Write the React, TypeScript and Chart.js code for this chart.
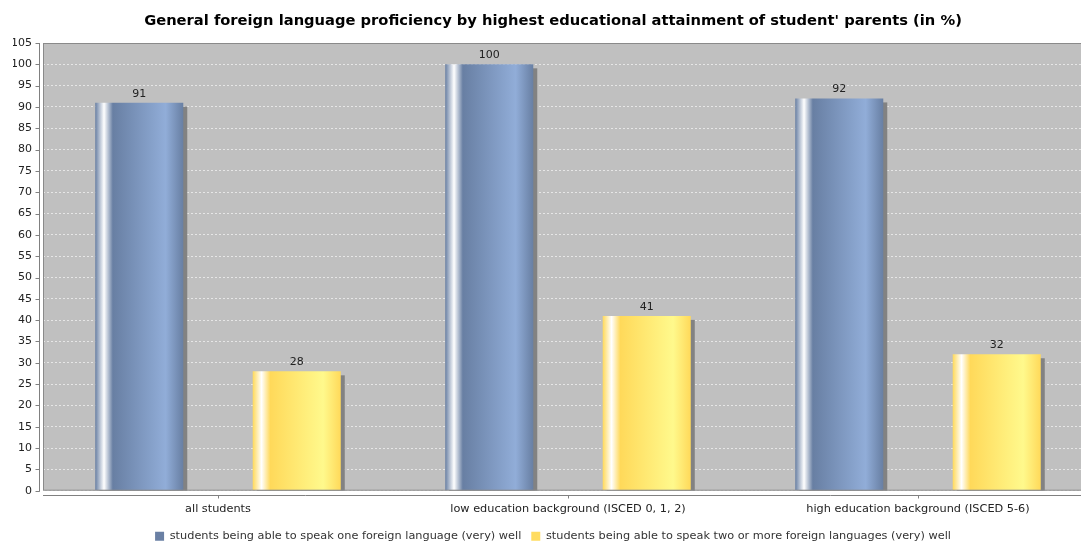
import React, { useEffect, useRef } from 'react';
import { Chart, registerables } from 'chart.js';

Chart.register(...registerables);

// ---- data ----
const TITLE = "General foreign language proficiency by highest educational attainment of student' parents (in %)";
const categories = [
  'all students',
  'low education background (ISCED 0, 1, 2)',
  'high education background (ISCED 5-6)',
];
const seriesNames = [
  'students being able to speak one foreign language (very) well',
  'students being able to speak two or more foreign languages (very) well',
];
const oneLanguage = [91, 100, 92];
const twoOrMoreLanguages = [28, 41, 32];
const yMin = 0;
const yMax = 105;
const yStep = 5;

// ---- styles ----
const FONT = "'DejaVu Sans', 'Liberation Sans', sans-serif";
const BLUE = { c0: '#687fa3', c1: '#91add8', legend: '#6a80a4' };
const YELLOW = { c0: '#ffd95a', c1: '#fff98c', legend: '#ffdc60' };
const CAT_PCT = 0.9;
const BAR_PCT = 0.559;

function barGeometry(chart: any, datasetIndex: number, dataIndex: number) {
  const el: any = chart.getDatasetMeta(datasetIndex).data[dataIndex];
  if (el && typeof el.x === 'number' && isFinite(el.x) && el.width) {
    return { x0: el.x - el.width / 2, x1: el.x + el.width / 2 };
  }
  const ca = chart.chartArea;
  const xs = chart.scales.x;
  const n = chart.data.labels.length;
  const nd = chart.data.datasets.length;
  const catW = ca.width / n;
  const range = catW * CAT_PCT;
  const slot = range / nd;
  const w = slot * BAR_PCT;
  const cx = xs.getPixelForValue(dataIndex) - range / 2 + slot * (datasetIndex + 0.5);
  return { x0: cx - w / 2, x1: cx + w / 2 };
}

const makeBg = (col: { c0: string; c1: string }) => (ctx: any) => {
  if (ctx.type !== 'data' || !ctx.chart.chartArea) return col.c0;
  const { x0, x1 } = barGeometry(ctx.chart, ctx.datasetIndex, ctx.dataIndex);
  if (!isFinite(x0) || !isFinite(x1) || x1 <= x0) return col.c0;
  const g = ctx.chart.ctx.createLinearGradient(x0, 0, x1, 0);
  g.addColorStop(0, col.c0);
  g.addColorStop(0.1, '#ffffff');
  g.addColorStop(0.2, col.c0);
  g.addColorStop(0.8, col.c1);
  g.addColorStop(1, col.c0);
  return g;
};

const decorPlugin = {
  id: 'decor',
  beforeDraw(chart: any) {
    const { ctx, chartArea: ca } = chart;
    ctx.save();
    ctx.fillStyle = '#c0c0c0';
    ctx.fillRect(ca.left, ca.top, ca.right - ca.left, ca.bottom - ca.top);
    ctx.restore();
  },
  beforeDatasetsDraw(chart: any) {
    const { ctx, chartArea: ca } = chart;
    ctx.save();
    ctx.fillStyle = '#828282';
    chart.data.datasets.forEach((_: any, di: number) => {
      chart.getDatasetMeta(di).data.forEach((el: any) => {
        const left = el.x - el.width / 2 + 4;
        const top = el.y + 4;
        ctx.fillRect(left, top, el.width, ca.bottom - top);
      });
    });
    ctx.restore();
  },
  afterDatasetsDraw(chart: any) {
    const { ctx, chartArea: ca } = chart;
    ctx.save();
    // plot outline
    ctx.strokeStyle = '#8a8a8a';
    ctx.lineWidth = 1;
    ctx.strokeRect(ca.left + 0.5, ca.top + 0.5, ca.right - ca.left - 1, ca.bottom - ca.top - 1);
    // y axis line + ticks
    const ys = chart.scales.y;
    const ax = Math.round(ca.left - 4) + 0.5;
    ctx.strokeStyle = '#808080';
    ctx.beginPath();
    ctx.moveTo(ax, ca.top);
    ctx.lineTo(ax, ca.bottom + 1);
    ys.ticks.forEach((t: any) => {
      const y = Math.round(ys.getPixelForValue(t.value)) + 0.5;
      ctx.moveTo(ax - 4, y);
      ctx.lineTo(ax, y);
    });
    ctx.stroke();
    // x axis line + ticks
    const xs = chart.scales.x;
    const ay = Math.round(ca.bottom + 4) + 0.5;
    ctx.beginPath();
    ctx.moveTo(ca.left, ay);
    ctx.lineTo(ca.right, ay);
    xs.ticks.forEach((_: any, i: number) => {
      const x = Math.round(xs.getPixelForValue(i)) + 0.5;
      ctx.moveTo(x, ay);
      ctx.lineTo(x, ay + 3);
    });
    ctx.stroke();
    // value labels
    ctx.fillStyle = '#222';
    ctx.font = `11px ${FONT}`;
    ctx.textAlign = 'center';
    ctx.textBaseline = 'middle';
    chart.data.datasets.forEach((ds: any, di: number) => {
      chart.getDatasetMeta(di).data.forEach((el: any, i: number) => {
        ctx.fillText(String(ds.data[i]), el.x, el.y - 9);
      });
    });
    ctx.restore();
  },
};

export default function App() {
  const ref = useRef<HTMLCanvasElement | null>(null);

  useEffect(() => {
    if (!ref.current) return;
    const legendColors = [BLUE.legend, YELLOW.legend];
    const chart = new Chart(ref.current, {
      type: 'bar',
      data: {
        labels: categories,
        datasets: [
          {
            label: seriesNames[0],
            data: oneLanguage,
            backgroundColor: makeBg(BLUE) as any,
            borderWidth: 0,
            categoryPercentage: CAT_PCT,
            barPercentage: BAR_PCT,
          },
          {
            label: seriesNames[1],
            data: twoOrMoreLanguages,
            backgroundColor: makeBg(YELLOW) as any,
            borderWidth: 0,
            categoryPercentage: CAT_PCT,
            barPercentage: BAR_PCT,
          },
        ],
      },
      options: {
        responsive: false,
        devicePixelRatio: 1,
        animation: false,
        layout: { padding: { left: 13, right: 13, top: 0, bottom: 0 } },
        plugins: {
          title: {
            display: true,
            text: TITLE,
            color: '#000',
            font: { family: FONT, size: 14.7, weight: 'bold', lineHeight: 1.2 },
            padding: { top: 12.2, bottom: 13.16 },
          },
          legend: {
            position: 'bottom',
            labels: {
              font: { family: FONT, size: 11.3 },
              color: '#333',
              boxWidth: 9,
              boxHeight: 9,
              padding: 10,
              generateLabels: (c: any) =>
                c.data.datasets.map((ds: any, i: number) => ({
                  text: ds.label,
                  fillStyle: legendColors[i],
                  strokeStyle: legendColors[i],
                  lineWidth: 0,
                  hidden: !c.isDatasetVisible(i),
                  datasetIndex: i,
                  fontColor: '#333',
                })),
            },
          },
          tooltip: { enabled: false },
        },
        scales: {
          x: {
            type: 'category',
            offset: true,
            grid: { display: false, drawTicks: false },
            border: { display: false },
            ticks: { font: { family: FONT, size: 11.3 }, color: '#222', padding: 12, autoSkip: false, maxRotation: 0 },
            afterFit: (s: any) => { s.height = 30; },
          },
          y: {
            min: yMin,
            max: yMax,
            grid: { color: 'rgba(255,255,255,0.6)', lineWidth: 1, drawTicks: false },
            border: { display: false, dash: [2, 2] },
            ticks: { stepSize: yStep, font: { family: FONT, size: 11 }, color: '#222', padding: 11 },
            afterFit: (s: any) => { s.width = 30; },
          },
        },
      },
      plugins: [decorPlugin],
    } as any);
    chart.update();
    return () => chart.destroy();
  }, []);

  return (
    <div style={{ position: 'fixed', left: 0, top: 0, width: 1081, height: 543, overflow: 'hidden', background: '#fff' }}>
      <canvas ref={ref} width={1106} height={552} style={{ display: 'block', width: 1106, height: 552 }} />
    </div>
  );
}
